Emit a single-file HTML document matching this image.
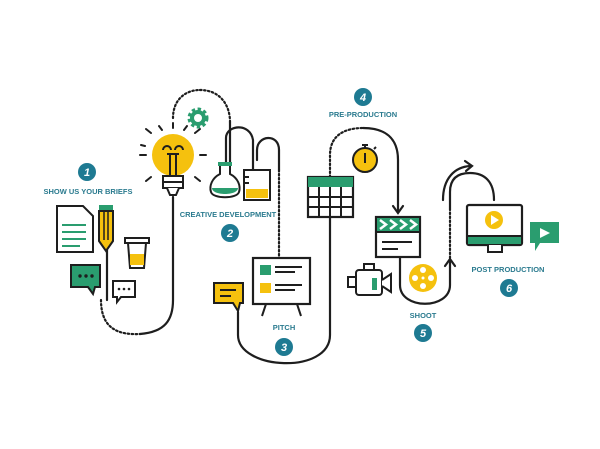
<!DOCTYPE html>
<html><head><style>
html,body{margin:0;padding:0;background:#fff;}
svg{display:block;}
text{font-family:"Liberation Sans",sans-serif;}
.lbl{font-size:7.5px;font-weight:bold;fill:#2b7b8f;text-anchor:middle;}
.num{font-size:11px;font-weight:bold;fill:#fff;text-anchor:middle;font-style:italic;}
</style></head><body>
<svg width="600" height="449" viewBox="0 0 600 449" xmlns="http://www.w3.org/2000/svg">
<rect width="600" height="449" fill="#fff"/>
<g fill="none" stroke="#1e1e1e" stroke-width="2.2" stroke-linecap="round">
<!-- path 1: pencil down, U to bulb -->
<path d="M107 250 V300"/>
<path d="M101 300 C101 330 120 335 140 334" stroke-dasharray="1.5 2.5"/>
<path d="M140 334 C165 332 173 320 173 300 V197"/>
<!-- bulb top arc -->
<path d="M173 118 C173 100 185 90 200 90" stroke-dasharray="1.5 2.5"/>
<path d="M200 90 C220 90 230 105 230 122" stroke-dasharray="1.5 2.5"/>
<path d="M230 122 V163"/>
<path d="M226 163 V138 C226 125 250 122 253 140 V170"/>
<path d="M257 160 V150 C257 135 279 133 279 150 V170"/>
<path d="M279 170 V258" stroke-dasharray="1.5 2.5"/>
<!-- pitch U -->
<path d="M238 312 V335 C238 370 330 375 330 335 V217"/>
<!-- preproduction arc -->
<path d="M330 177 V155 C330 135 345 128 363 128" stroke-dasharray="1.5 2.5"/>
<path d="M363 128 C385 128 398 138 398 160 V212"/>
<path d="M393 206 L398 213 L403 206"/>
<!-- shoot U -->
<path d="M400 257 V285 C400 310 450 310 450 285 V262"/>
<path d="M445 266 L450 259 L455 266"/>
<path d="M450 258 V210" stroke-dasharray="1.5 2.5"/>
<path d="M450 210 V192 C450 178 458 173 470 173 C485 173 494 182 494 200"/>
<path d="M443 200 C443 178 455 167 470 166"/>
<path d="M465 161 L472 166 L466 171"/>
</g>

<!-- badges -->
<g fill="#1e7a92">
<circle cx="87" cy="172" r="9"/><circle cx="230" cy="233" r="9"/><circle cx="284" cy="347" r="9"/>
<circle cx="363" cy="97" r="9"/><circle cx="423" cy="333" r="9"/><circle cx="509" cy="288" r="9"/>
</g>
<text class="num" x="87" y="176">1</text><text class="num" x="230" y="237">2</text><text class="num" x="284" y="351">3</text>
<text class="num" x="363" y="101">4</text><text class="num" x="423" y="337">5</text><text class="num" x="509" y="292">6</text>
<text class="lbl" x="88" y="194">SHOW US YOUR BRIEFS</text>
<text class="lbl" x="228" y="217">CREATIVE DEVELOPMENT</text>
<text class="lbl" x="284" y="330">PITCH</text>
<text class="lbl" x="363" y="117">PRE-PRODUCTION</text>
<text class="lbl" x="423" y="318">SHOOT</text>
<text class="lbl" x="508" y="272">POST PRODUCTION</text>

<!-- document -->
<g stroke="#1e1e1e" stroke-width="2" fill="#fff">
<path d="M57 206 H83 L93 216 V252 H57 Z"/>
</g>
<g stroke="#2a9d6f" stroke-width="2"><path d="M62 225 H86 M62 232 H86 M62 239 H86 M62 246 H80"/></g>
<!-- pencil -->
<rect x="99" y="205" width="14" height="6" fill="#2a9d6f"/>
<path d="M99 211 H113 V241 L106 251 L99 241 Z" fill="#f5c10e" stroke="#1e1e1e" stroke-width="2"/>
<path d="M104 212 V240 M108 212 V240" stroke="#1e1e1e" stroke-width="1.5"/>
<!-- cup -->
<rect x="125" y="238" width="24" height="5" fill="#fff" stroke="#1e1e1e" stroke-width="2"/>
<path d="M128 243 L130 268 H144 L146 243 Z" fill="#fff" stroke="#1e1e1e" stroke-width="2"/>
<rect x="130" y="254" width="14" height="11" fill="#f5c10e"/>
<!-- bubbles -->
<path d="M71 265 H100 V287 H95 L93 294 L88 287 H71 Z" fill="#2a9d6f" stroke="#1e1e1e" stroke-width="2"/>
<g fill="#1e1e1e"><circle cx="80" cy="276" r="1.7"/><circle cx="86" cy="276" r="1.7"/><circle cx="92" cy="276" r="1.7"/></g>
<path d="M113 281 H135 V297 H121 L117 302 V297 H113 Z" fill="#fff" stroke="#1e1e1e" stroke-width="2"/>
<g fill="#1e1e1e"><circle cx="119" cy="289" r="1.3"/><circle cx="124" cy="289" r="1.3"/><circle cx="129" cy="289" r="1.3"/></g>

<!-- bulb -->
<g stroke="#1e1e1e" stroke-width="2" stroke-linecap="round">
<path d="M146 155 H140 M200 155 H206 M151 133 L146 129 M195 133 L200 129 M151 177 L146 181 M195 177 L200 181 M173 128 V123 M162 130 L159 126 M184 130 L187 126 M141 145 L145 146"/>
</g>
<circle cx="173" cy="155" r="21" fill="#f5c10e"/>
<path d="M163 150 a4 4 0 1 1 8 0 M175 150 a4 4 0 1 1 8 0 M167 154 H179 M170 154 V176 M176 154 V176" stroke="#1e1e1e" stroke-width="2" fill="none"/>
<rect x="163" y="176" width="20" height="12" fill="#fff" stroke="#1e1e1e" stroke-width="2"/>
<path d="M163 182 H183" stroke="#1e1e1e" stroke-width="2"/>
<path d="M167 188 L170 195 H176 L179 188" fill="#fff" stroke="#1e1e1e" stroke-width="2"/>
<!-- gear -->
<circle cx="198" cy="118" r="8" fill="none" stroke="#2a9d6f" stroke-width="5" stroke-dasharray="3 2.3"/>
<circle cx="198" cy="118" r="6" fill="none" stroke="#2a9d6f" stroke-width="4"/>
<!-- flask -->
<rect x="218" y="162" width="14" height="4" fill="#2a9d6f"/>
<path d="M220 166 V174 C212 178 209 186 211 192 C213 199 237 199 239 192 C241 186 238 178 230 174 V166" fill="#fff" stroke="#1e1e1e" stroke-width="2"/>
<path d="M212 188 H238 C238 196 212 196 212 188 Z" fill="#2a9d6f"/>
<!-- beaker -->
<path d="M244 170 H270 V200 H244 Z" fill="#fff" stroke="#1e1e1e" stroke-width="2"/>
<rect x="246" y="189" width="22" height="9" fill="#f5c10e"/>
<path d="M244 177 H249 M244 183 H249" stroke="#1e1e1e" stroke-width="2"/>

<!-- pitch board -->
<rect x="253" y="258" width="57" height="46" fill="#fff" stroke="#1e1e1e" stroke-width="2.2"/>
<rect x="260" y="265" width="11" height="10" fill="#2a9d6f"/><rect x="260" y="283" width="11" height="10" fill="#f5c10e"/>
<path d="M275 267 H302 M275 272 H295 M275 285 H302 M275 290 H295" stroke="#1e1e1e" stroke-width="2"/>
<path d="M266 304 L262 316 M297 304 L301 316" stroke="#1e1e1e" stroke-width="2"/>
<path d="M214 283 H243 V303 H240 L238 311 L233 303 H214 Z" fill="#f5c10e" stroke="#1e1e1e" stroke-width="2"/>
<path d="M220 290 H236 M220 296 H231" stroke="#1e1e1e" stroke-width="2"/>

<!-- calendar -->
<rect x="308" y="177" width="45" height="40" fill="#fff" stroke="#1e1e1e" stroke-width="2.2"/>
<rect x="308" y="177" width="45" height="10" fill="#2a9d6f"/>
<path d="M308 197 H353 M308 207 H353 M319 187 V217 M330 187 V217 M341 187 V217" stroke="#1e1e1e" stroke-width="2"/>
<!-- stopwatch -->
<path d="M362 145 H368 M365 145 V148 M374 149 L376 147" stroke="#1e1e1e" stroke-width="2"/>
<circle cx="365" cy="160" r="12" fill="#f5c10e" stroke="#1e1e1e" stroke-width="2"/>
<path d="M365 153 V163" stroke="#1e1e1e" stroke-width="2"/>

<!-- clapboard -->
<rect x="376" y="217" width="44" height="40" fill="#fff" stroke="#1e1e1e" stroke-width="2.2"/>
<rect x="377" y="218" width="42" height="13" fill="#2a9d6f"/>
<path d="M380 220 L386 224.5 L380 229 M390 220 L396 224.5 L390 229 M400 220 L406 224.5 L400 229 M410 220 L416 224.5 L410 229" stroke="#fff" stroke-width="2.5" fill="none"/>
<path d="M376 232 H420 M382 242 H412 M382 249 H398" stroke="#1e1e1e" stroke-width="2"/>
<!-- camera -->
<rect x="348" y="277" width="8" height="10" fill="#fff" stroke="#1e1e1e" stroke-width="2"/>
<rect x="356" y="270" width="26" height="25" rx="3" fill="#fff" stroke="#1e1e1e" stroke-width="2"/>
<path d="M382 280 L391 274 V292 L382 286" fill="#fff" stroke="#1e1e1e" stroke-width="2"/>
<path d="M364 270 V264 H374 V270" fill="none" stroke="#1e1e1e" stroke-width="2"/>
<rect x="372" y="278" width="5" height="12" fill="#2a9d6f"/>
<!-- reel -->
<circle cx="423" cy="278" r="14" fill="#f5c10e"/>
<g fill="#fff"><circle cx="423" cy="270" r="3"/><circle cx="423" cy="286" r="3"/><circle cx="415" cy="278" r="3"/><circle cx="431" cy="278" r="3"/><circle cx="423" cy="278" r="1.5"/></g>

<!-- monitor -->
<rect x="467" y="205" width="55" height="40" rx="2" fill="#fff" stroke="#1e1e1e" stroke-width="2.2"/>
<rect x="468" y="236" width="53" height="8" fill="#2a9d6f"/>
<path d="M468 236 H521" stroke="#1e1e1e" stroke-width="2"/>
<path d="M488 245 V252 H502 V245" fill="#fff" stroke="#1e1e1e" stroke-width="2"/>
<circle cx="494" cy="220" r="9" fill="#f5c10e"/>
<path d="M491 215 L499 220 L491 225 Z" fill="#fff"/>
<path d="M530 222 H559 V243 H540 L535 251 V243 H530 Z" fill="#2a9d6f"/>
<path d="M540 228 L550 233 L540 238 Z" fill="#fff"/>
</svg>
</body></html>
